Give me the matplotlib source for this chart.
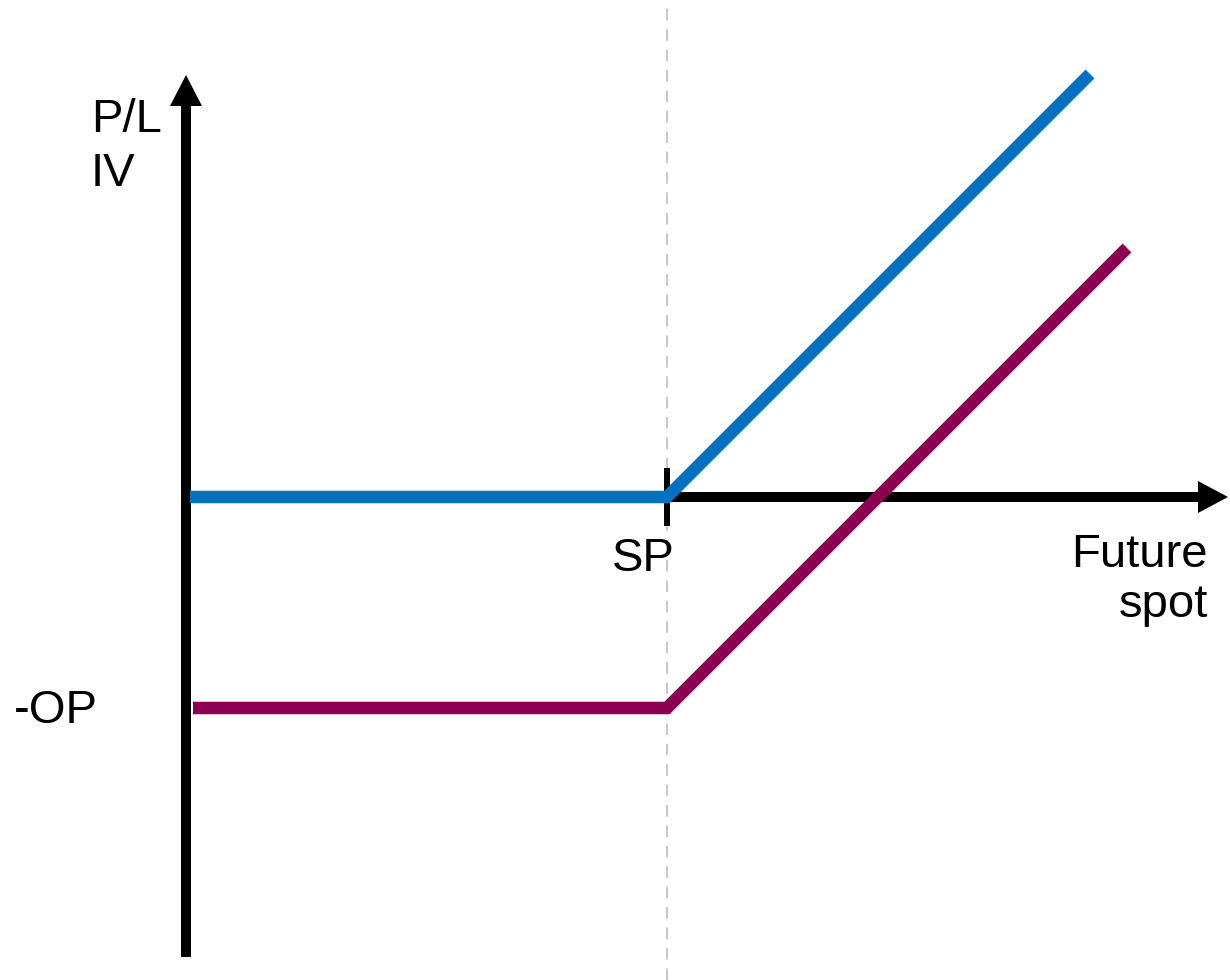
import matplotlib.pyplot as plt

# data units: 1 unit = 10 px, origin where the axes cross
SP = 48.1
OP = 21.1

call_x = [0.4, SP, 90.4]
call_y = [0, 0, 42.3]

net_x = [0.7, SP, 94.1]
net_y = [-OP, -OP, 24.9]

plt.rcParams['font.family'] = ['Liberation Sans', 'DejaVu Sans']

fig = plt.figure(figsize=(12.3, 9.8), dpi=100)
ax = fig.add_axes([0, 0, 1, 1])
ax.set_xlim(-18.6, 104.4)
ax.set_ylim(-48.3, 49.7)
ax.axis('off')

# dashed guide at the strike
ax.axvline(SP, color='#c8c8c8', lw=1.4, ls=(0, (6, 4.5)), zorder=1)

# axes with arrow heads
ax.arrow(0, -46.0, 0, 88.2, width=1.0, head_width=3.2, head_length=3.1,
         length_includes_head=True, fc='black', ec='none', zorder=2)
ax.arrow(0, 0, 104.2, 0, width=1.0, head_width=3.2, head_length=3.0,
         length_includes_head=True, fc='black', ec='none', zorder=2)
ax.plot([SP, SP], [2.9, -2.9], color='black', lw=4.3, solid_capstyle='butt', zorder=2)

ax.plot(call_x, call_y, color='#0070C0', lw=9, solid_capstyle='butt',
        solid_joinstyle='miter', zorder=3)
ax.plot(net_x, net_y, color='#8B0050', lw=9, solid_capstyle='butt',
        solid_joinstyle='miter', zorder=3)

ax.text(-9.5, 39.9, 'P/L\nIV', fontsize=34, ha='left', va='top', linespacing=1.3)
ax.text(SP - 2.4, -4.0, 'SP', fontsize=34, ha='center', va='top')
ax.text(102.2, -3.6, 'Future\nspot', fontsize=34, ha='right', va='top', linespacing=1.17)
ax.text(-17.2, -OP - 0.3, '-OP', fontsize=34, ha='left', va='center')

fig.savefig('out.png', dpi=100)
